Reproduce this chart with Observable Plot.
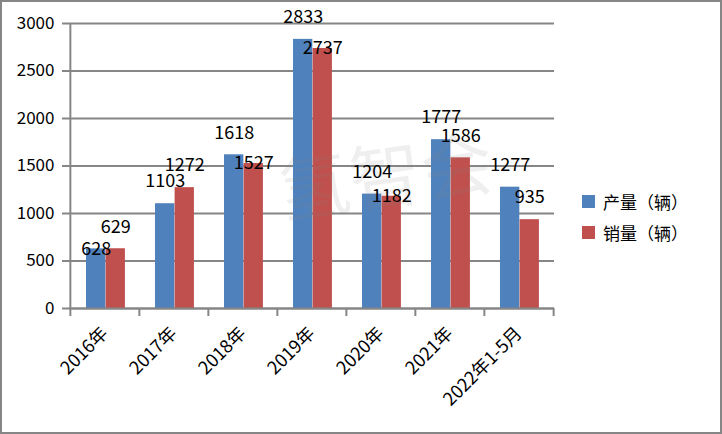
<!DOCTYPE html>
<html><head><meta charset="utf-8">
<script src="https://cdn.jsdelivr.net/npm/d3@7"></script>
<script src="https://cdn.jsdelivr.net/npm/@observablehq/plot@0.6"></script>
<style>
body{margin:0;background:#fff;}
#wrap{position:relative;width:722px;height:434px;font-family:"Noto Sans CJK SC","Noto Sans",sans-serif;}
#border{position:absolute;left:0;top:0;width:722px;height:434px;box-sizing:border-box;border:2px solid #868686;pointer-events:none;}
.lg{position:absolute;left:582px;font-size:17px;line-height:17px;color:#000;white-space:nowrap;}
.lg i{display:inline-block;width:13px;height:13px;vertical-align:top;margin-top:2px;margin-right:8px;}
</style></head>
<body><div id="wrap"></div>
<script>
const categories = ["2016年","2017年","2018年","2019年","2020年","2021年","2022年1-5月"];
const production = [628,1103,1618,2833,1204,1777,1277];
const sales = [629,1272,1527,2737,1182,1586,935];
const seriesNames = ["产量（辆）","销量（辆）"];
const seriesColors = ["#4F81BD","#C0504D"];
const yTicks = [0,500,1000,1500,2000,2500,3000];
const watermark = "氢智会";

const W=722,H=434,mL=69,mR=168,mT=23,mB=126;
const band=(W-mL-mR)/categories.length;
const barW=19.6, outer=16;
const pxPerUnit=(H-mT-mB)/3000;
const gray="#868686";

const prodRows=categories.map((c,i)=>({cat:c,value:production[i]}));
const salesRows=categories.map((c,i)=>({cat:c,value:sales[i]}));
// labels: lower label of a colliding pair sits on the bar top
const lab=[];
categories.forEach((c,i)=>{
  const a=production[i],b=sales[i];
  const col=Math.abs(a-b)*pxPerUnit<14;
  lab.push({cat:c,value:a,s:0,top:col&&a<b});
  lab.push({cat:c,value:b,s:1,top:col&&b<a});
});
const dxs=[outer+barW/2-band/2, outer+barW*1.5-band/2];
const textMarks=[];
for(const s of [0,1]) for(const top of [false,true]){
  textMarks.push(Plot.text(lab.filter(d=>d.s===s&&d.top===top),{x:"cat",y:"value",text:d=>String(d.value),dx:dxs[s],dy:top?0:-22,fontSize:18,fill:"#000",lineAnchor:"middle"}));
}

const chart=Plot.plot({
  width:W,height:H,marginLeft:mL,marginRight:mR,marginTop:mT,marginBottom:mB,
  style:{fontFamily:'"Noto Sans CJK SC","Noto Sans",sans-serif',fontSize:"16px",background:"transparent",overflow:"visible"},
  x:{domain:categories,padding:0},
  y:{domain:[0,3000]},
  marks:[
    Plot.gridY(yTicks,{stroke:gray,strokeOpacity:1,strokeWidth:2}),
    Plot.barY(prodRows,{x:"cat",y:"value",fill:seriesColors[0],insetLeft:outer,insetRight:band-outer-barW}),
    Plot.barY(salesRows,{x:"cat",y:"value",fill:seriesColors[1],insetLeft:outer+barW,insetRight:band-outer-2*barW}),
    Plot.text([watermark],{frameAnchor:"middle",dx:74,dy:14,rotate:-8,fontSize:72,fill:"#808080",fillOpacity:0.13}),
    ...textMarks,
    Plot.ruleY([0],{stroke:gray,strokeWidth:2}),
    Plot.ruleX([categories[0]],{dx:-band/2,y1:0,y2:3000,stroke:gray,strokeWidth:2}),
    Plot.axisY(yTicks,{tickSize:7,tickFormat:()=>"",stroke:gray,strokeWidth:2,label:null}),
    Plot.axisY(yTicks,{tickSize:0,tickPadding:15,tickFormat:d=>String(d),fontSize:17,fill:"#000",label:null}),
    Plot.axisX(categories,{tickSize:8,tickFormat:()=>"",dx:-band/2,stroke:gray,strokeWidth:2,label:null}),
    Plot.axisX([categories[categories.length-1]],{tickSize:8,tickFormat:()=>"",dx:band/2,stroke:gray,strokeWidth:2,label:null}),
    Plot.axisX(categories,{tickSize:0,tickPadding:22,tickRotate:-45,fontSize:18,fill:"#000",label:null})
  ]
});
const wrap=document.getElementById("wrap");
wrap.appendChild(chart);
seriesNames.forEach((n,i)=>{
  const d=document.createElement("div");
  d.className="lg";
  d.style.top=(193+i*31)+"px";
  d.innerHTML=`<i style="background:${seriesColors[i]}"></i>${n}`;
  wrap.appendChild(d);
});
const b=document.createElement("div");b.id="border";wrap.appendChild(b);
</script></body></html>
